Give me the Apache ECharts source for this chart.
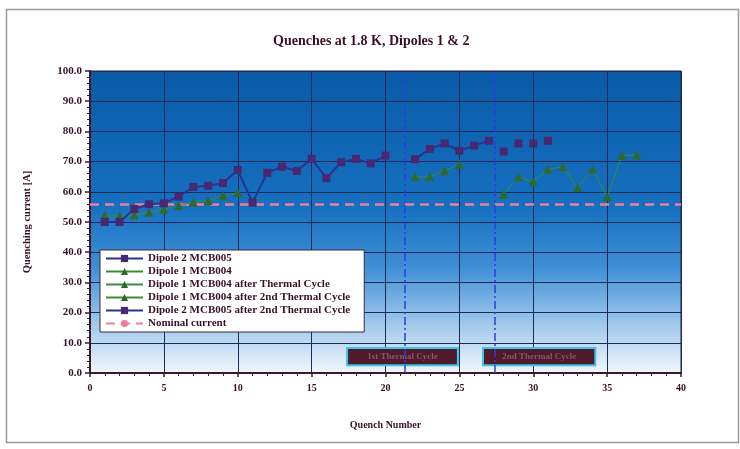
<!DOCTYPE html>
<html>
<head>
<meta charset="utf-8">
<script src="https://cdn.jsdelivr.net/npm/echarts@6/dist/echarts.min.js"></script>
<style>html,body{margin:0;padding:0;background:#fff}#c{width:740px;height:449px}</style>
</head>
<body>
<div id="c"></div>
<script>
// ---- data ----
const xTicks = [0, 5, 10, 15, 20, 25, 30, 35, 40];
const yTicks = [0, 10, 20, 30, 40, 50, 60, 70, 80, 90, 100];

const d2Quench  = [1,2,3,4,5,6,7,8,9,10,11,12,13,14,15,16,17,18,19,20,21,22,23,24,25,26,27];
const d2Current = [50.0,50.0,54.3,55.9,56.2,58.4,61.6,62.0,62.9,67.2,56.4,66.3,68.3,66.9,70.9,64.5,69.8,70.9,69.4,72.0,null,70.8,74.2,76.0,73.6,75.3,76.9];

const d1Quench  = [1,2,3,4,5,6,7,8,9,10];
const d1Current = [52.3,52.0,52.3,53.2,54.2,55.4,56.5,57.1,58.7,59.8];

const d1tcQuench  = [22,23,24,25];
const d1tcCurrent = [65.0,65.0,67.0,69.1];

const d1tc2Quench  = [28,29,30,31,32,33,34,35,36,37];
const d1tc2Current = [59.2,65.0,63.4,67.5,68.3,61.4,67.5,58.4,72.0,72.2];

const d2tc2Quench  = [28,29,30,31];
const d2tc2Current = [73.3,76.0,76.0,76.9];

const nominalCurrent = 55.8;
const thermalCycleAt = [21.3, 27.4];
const cycleLabels = ['1st Thermal Cycle', '2nd Thermal Cycle'];
const cycleBoxX = [[17.4, 24.9], [26.6, 34.2]];
const cycleBoxY = [2.6, 8.3];

const seriesNames = [
  'Dipole 2 MCB005',
  'Dipole 1 MCB004',
  'Dipole 1 MCB004 after Thermal Cycle',
  'Dipole 1 MCB004 after 2nd Thermal Cycle',
  'Dipole 2 MCB005 after 2nd Thermal Cycle',
  'Nominal current'
];

// ---- build ----
function pairs(xs, ys) { return xs.map((x, i) => [x, ys[i] == null ? '-' : ys[i]]); }

const FONT = '"Liberation Serif", "Times New Roman", serif';
const TXT = '#3a1028';
const SQ = '#48286e', SQLINE = '#2a3390';
const GR = '#2e6b2a', GRLINE = '#3d8a3d';
const PINK = '#f07e96';

const chart = echarts.init(document.getElementById('c'), null, {renderer: 'canvas'});
chart.setOption({
  animation: false,
  backgroundColor: '#fff',
  title: {
    text: 'Quenches at 1.8 K, Dipoles 1 & 2',
    left: 268, top: 29,
    textStyle: {fontFamily: FONT, fontWeight: 'bold', fontSize: 14, color: TXT}
  },
  graphic: [{
    type: 'rect', left: 4, top: 7, z: -1,
    shape: {width: 732, height: 433},
    style: {fill: 'none', stroke: '#9a9a9a', lineWidth: 1.5}
  }],
  legend: {
    orient: 'vertical', left: 100, top: 250,
    backgroundColor: '#fff', borderColor: '#3a2a3a', borderWidth: 1,
    padding: [3, 14, 3, 5], itemGap: 2, itemWidth: 37, itemHeight: 9,
    textStyle: {fontFamily: FONT, fontWeight: 'bold', fontSize: 11, color: TXT, lineHeight: 11},
    data: seriesNames.map((n, i) => {
      if (i === 4) return {name: n, lineStyle: {width: 2, color: SQLINE}};
      if (i === 5) return {name: n, itemStyle: {color: PINK}};
      return {name: n};
    })
  },
  grid: {
    left: 90, right: 59, top: 71, bottom: 76, show: true,
    borderColor: '#2a2040', borderWidth: 1,
    backgroundColor: {type: 'linear', x: 0, y: 0, x2: 0, y2: 1, colorStops: [
      {offset: 0, color: '#0a5aa6'},
      {offset: 0.45, color: '#1670c0'},
      {offset: 0.65, color: '#3f8fd6'},
      {offset: 0.8, color: '#8ebde8'},
      {offset: 1, color: '#f2f7fc'}
    ]}
  },
  xAxis: {
    type: 'value', min: xTicks[0], max: xTicks[xTicks.length - 1], interval: 5,
    name: 'Quench Number', nameLocation: 'middle', nameGap: 47,
    nameTextStyle: {fontFamily: FONT, fontWeight: 'bold', fontSize: 10, color: TXT},
    axisLine: {lineStyle: {color: '#3a1a2a', width: 2}},
    axisTick: {show: true, length: 4, lineStyle: {color: '#3a1a2a', width: 1.5}},
    minorTick: {show: true, splitNumber: 5, length: 3, lineStyle: {color: '#3a1a2a'}},
    axisLabel: {fontFamily: FONT, fontWeight: 'bold', fontSize: 10, color: TXT, margin: 10},
    splitLine: {show: true, lineStyle: {color: '#1c2a5a', width: 1}}
  },
  yAxis: {
    type: 'value', min: yTicks[0], max: yTicks[yTicks.length - 1], interval: 10,
    name: 'Quenching current [A]', nameLocation: 'middle', nameGap: 57,
    nameTextStyle: {fontFamily: FONT, fontWeight: 'bold', fontSize: 10.5, color: TXT},
    axisLine: {show: true, lineStyle: {color: '#3a1a2a', width: 2}},
    axisTick: {show: true, length: 5, lineStyle: {color: '#3a1a2a', width: 1.5}},
    minorTick: {show: true, splitNumber: 5, length: 3, lineStyle: {color: '#3a1a2a'}},
    axisLabel: {fontFamily: FONT, fontWeight: 'bold', fontSize: 11, color: TXT, margin: 8,
      formatter: v => v.toFixed(1)},
    splitLine: {show: true, lineStyle: {color: '#1c2a5a', width: 1}}
  },
  series: [
    {
      name: seriesNames[0], type: 'line', data: pairs(d2Quench, d2Current),
      symbol: 'rect', symbolSize: 8, connectNulls: false,
      lineStyle: {color: SQLINE, width: 2}, itemStyle: {color: SQ}, z: 4
    },
    {
      name: seriesNames[1], type: 'line', data: pairs(d1Quench, d1Current),
      symbol: 'triangle', symbolSize: 9,
      lineStyle: {color: GRLINE, width: 1}, itemStyle: {color: GR}, z: 3
    },
    {
      name: seriesNames[2], type: 'line', data: pairs(d1tcQuench, d1tcCurrent),
      symbol: 'triangle', symbolSize: 9,
      lineStyle: {color: GRLINE, width: 1}, itemStyle: {color: GR}, z: 3
    },
    {
      name: seriesNames[3], type: 'line', data: pairs(d1tc2Quench, d1tc2Current),
      symbol: 'triangle', symbolSize: 9,
      lineStyle: {color: GRLINE, width: 1}, itemStyle: {color: GR}, z: 3
    },
    {
      name: seriesNames[4], type: 'line', data: pairs(d2tc2Quench, d2tc2Current),
      symbol: 'rect', symbolSize: 8,
      lineStyle: {color: SQLINE, width: 0}, itemStyle: {color: SQ}, z: 4
    },
    {
      name: seriesNames[5], type: 'line',
      data: [[xTicks[0], nominalCurrent], [xTicks[xTicks.length - 1], nominalCurrent]],
      symbol: 'none', itemStyle: {color: PINK},
      lineStyle: {color: PINK, width: 2.5, type: [9, 6]}, z: 2,
      markLine: {
        silent: true, symbol: 'none', label: {show: false},
        lineStyle: {color: '#2a3ee0', width: 1.5, type: [8, 3, 2, 3]},
        data: thermalCycleAt.map(x => ({xAxis: x}))
      }
    },
    {
      name: 'cycles', type: 'line', data: [], z: 6,
      markArea: {
        silent: true,
        itemStyle: {color: '#4e1a2c', borderColor: '#3cc4e4', borderWidth: 2, opacity: 1},
        label: {show: true, position: 'inside', color: '#8a5566', fontFamily: FONT,
          fontWeight: 'bold', fontSize: 9},
        data: cycleLabels.map((t, i) => [
          {name: t, xAxis: cycleBoxX[i][0], yAxis: cycleBoxY[0]},
          {xAxis: cycleBoxX[i][1], yAxis: cycleBoxY[1]}
        ])
      }
    }
  ]
});
</script>
</body>
</html>
